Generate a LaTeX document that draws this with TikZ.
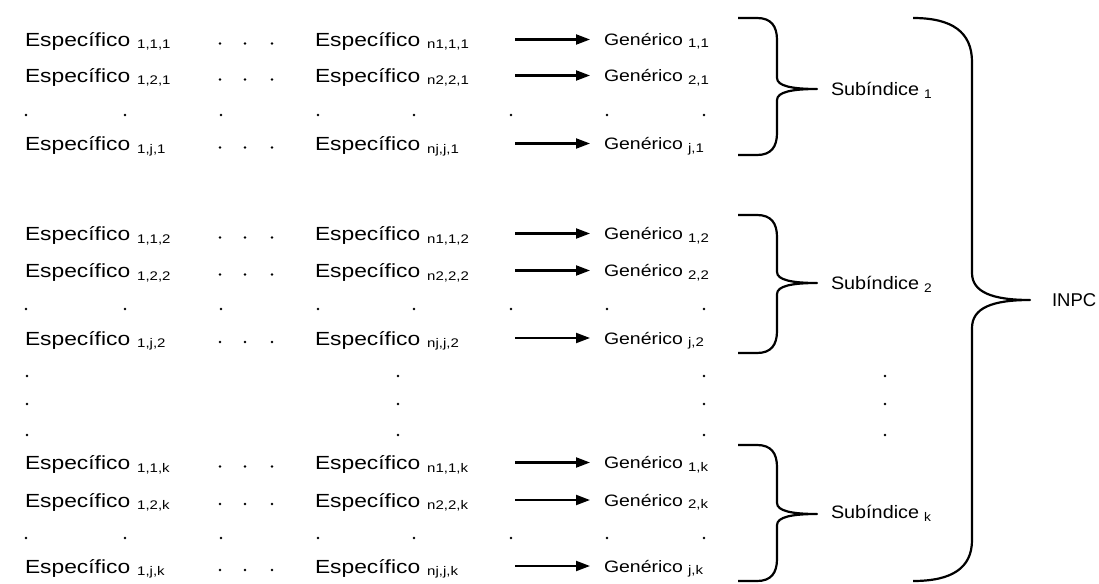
\documentclass[tikz,border=0pt]{standalone}
\usepackage{fontspec}
\setmainfont{Liberation Sans}
\newfontfamily\stretchA{Liberation Sans}[FakeStretch=1.2]
\newfontfamily\stretchB{Liberation Sans}[FakeStretch=1.18]
\newfontfamily\stretchC{Liberation Sans}[FakeStretch=1.1]
\usetikzlibrary{arrows.meta}
\newcommand\espe[1]{{\stretchA\fontsize{19}{22}\selectfont Específico}\hspace{7pt}\raisebox{-2.5pt}{\stretchA\fontsize{12.5}{14}\selectfont #1}}
\newcommand\gene[1]{{\stretchB\fontsize{16.5}{20}\selectfont Genérico}\hspace{5pt}\raisebox{-2.5pt}{\stretchA\fontsize{12.5}{14}\selectfont #1}}
\newcommand\subi[1]{{\stretchC\fontsize{18}{20}\selectfont Subíndice}\hspace{5pt}\raisebox{-3pt}{\stretchC\fontsize{12.5}{14}\selectfont #1}}
\newcommand\ibrace[3]{%
  \draw[brace] (738,#1) -- (757,#1) .. controls (771,#1) and (777,#1+8) .. (777,#1+22)
    -- (777,#3-11) .. controls (777,#3-3) and (792,#3) .. (817,#3)
    .. controls (792,#3) and (777,#3+3) .. (777,#3+11)
    -- (777,#2-22) .. controls (777,#2-8) and (771,#2) .. (757,#2) -- (738,#2);}
\tikzset{
  lbl/.style={anchor=base west, inner sep=0pt, outer sep=0pt, text=black},
  arr/.style={line width=2.1pt, -{Triangle[length=14pt,width=10pt]}},
  brace/.style={line width=2.2pt, line join=round},
  dotmark/.style={fill=black}
}
\begin{document}
\begin{tikzpicture}[x=1pt,y=-1pt]
\useasboundingbox (0,0) rectangle (1099,583);
\foreach \g/\ya/\yb/\yc/\yd in {1/39.5/75.5/143.5/115, 2/233.5/270.5/338/309, k/462.5/500/566/538}{
  % row 1
  \node[lbl] (ea\g) at (25,\ya+7) {\espe{1,1,\g}};
  \node[lbl] (na\g) at (315,\ya+7) {\espe{n1,1,\g}};
  \node[lbl] (ga\g) at (604,\ya+6) {\gene{1,\g}};
  \coordinate (sa\g) at (515,\ya); \coordinate (ta\g) at (590,\ya);
  \draw[arr] (sa\g) -- (ta\g);
  % row 2
  \node[lbl] (eb\g) at (25,\yb+7) {\espe{1,2,\g}};
  \node[lbl] (nb\g) at (315,\yb+7) {\espe{n2,2,\g}};
  \node[lbl] (gb\g) at (604,\yb+6) {\gene{2,\g}};
  \coordinate (sb\g) at (515,\yb); \coordinate (tb\g) at (590,\yb);
  \draw[arr] (sb\g) -- (tb\g);
  % row j
  \node[lbl] (ec\g) at (25,\yc+7) {\espe{1,j,\g}};
  \node[lbl] (nc\g) at (315,\yc+7) {\espe{nj,j,\g}};
  \node[lbl] (gc\g) at (604,\yc+6) {\gene{j,\g}};
  \coordinate (sc\g) at (515,\yc); \coordinate (tc\g) at (590,\yc);
  \draw[arr] (sc\g) -- (tc\g);
  % ellipsis dots
  \foreach \yy in {\ya,\yb,\yc}{
    \foreach \x in {220,245,272}{\fill[dotmark] (\x,\yy+4) circle[radius=1.4pt];}
  }
  % dot row
  \foreach \x in {26,125,221,318,414,511,607,704}{\fill[dotmark] (\x,\yd) circle[radius=1.4pt];}
}
% vertical dots between groups 2 and k
\foreach \yy in {376,404,435}{
  \foreach \x in {27,398,704,885}{\fill[dotmark] (\x,\yy) circle[radius=1.4pt];}
}
% inner braces
\ibrace{18}{155}{89}
\ibrace{215}{353}{283}
\ibrace{445}{581}{514}
% subindex labels
\node[lbl] (s1) at (831,95.5) {\subi{1}};
\node[lbl] (s2) at (831,289.5) {\subi{2}};
\node[lbl] (sk) at (831,518.5) {\subi{k}};
% big brace
\draw[brace] (913,18) .. controls (952,18) and (972,32) .. (972,62) -- (972,273)
  .. controls (972,292) and (992,300) .. (1030,300)
  .. controls (992,300) and (972,308) .. (972,328) -- (972,540)
  .. controls (972,568) and (952,581) .. (913,581);
\node[lbl] (inpc) at (1052,306.7) {\fontsize{18.5}{20}\selectfont INPC};
\end{tikzpicture}
\end{document}
